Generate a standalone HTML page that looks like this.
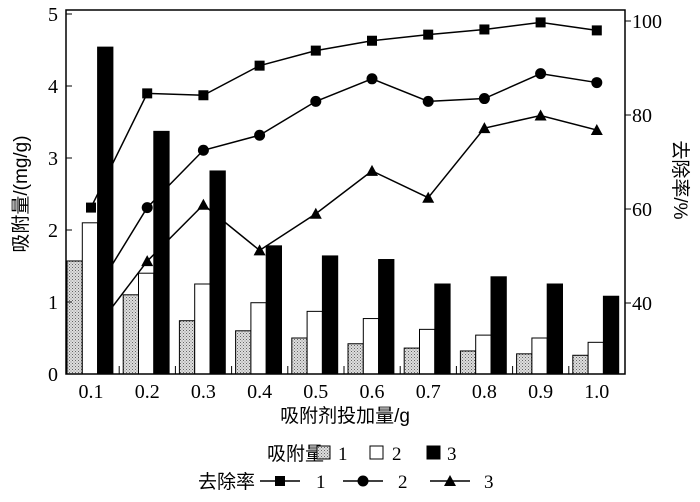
<!DOCTYPE html>
<html><head><meta charset="utf-8"><style>
body{margin:0;background:#fff}
svg text{font-family:"Liberation Serif","Noto Serif CJK SC",serif;fill:#000}
.cjk{font-family:"Liberation Sans","Noto Sans CJK SC",sans-serif}
</style></head><body>
<svg id="chart" width="700" height="497" viewBox="0 0 700 497" xmlns="http://www.w3.org/2000/svg">
<defs><pattern id="dots" width="3" height="3" patternUnits="userSpaceOnUse"><rect width="3" height="3" fill="#ddd"/><rect width="1" height="1" fill="#666"/><rect x="1.5" y="1.5" width="1" height="1" fill="#888"/></pattern></defs>
<g id="lines"></g>
<g id="bars"></g>
<g id="axes"></g>
<text class="cjk" transform="translate(27,194) rotate(-90)" text-anchor="middle" font-size="19">吸附量/(mg/g)</text>
<text class="cjk" transform="translate(674,180) rotate(90)" text-anchor="middle" font-size="19">去除率/%</text>
<text class="cjk" x="345" y="422" text-anchor="middle" font-size="19">吸附剂投加量/g</text>
<g font-size="19">
<text class="cjk" x="267" y="460">吸附量</text>
<rect x="317" y="446" width="13" height="13" fill="url(#dots)" stroke="#000"/><text x="338" y="460">1</text>
<rect x="370" y="446" width="13" height="13" fill="#fff" stroke="#000"/><text x="392" y="460">2</text>
<rect x="427" y="446" width="13" height="13" fill="#000" stroke="#000"/><text x="447" y="460">3</text>
<text class="cjk" x="198" y="488">去除率</text>
<line x1="260" y1="481" x2="300" y2="481" stroke="#000" stroke-width="1.5"/><rect x="275" y="476" width="10" height="10"/><text x="316" y="488">1</text>
<line x1="343" y1="481" x2="383" y2="481" stroke="#000" stroke-width="1.5"/><circle cx="363" cy="481" r="5.5"/><text x="398" y="488">2</text>
<line x1="430" y1="481" x2="470" y2="481" stroke="#000" stroke-width="1.5"/><polygon points="450,475 456,486 444,486"/><text x="484" y="488">3</text>
</g>
</svg>
<script>
const categories=["0.1","0.2","0.3","0.4","0.5","0.6","0.7","0.8","0.9","1.0"];
const bar1=[1.57,1.1,0.74,0.6,0.5,0.42,0.36,0.32,0.28,0.26];
const bar2=[2.1,1.4,1.25,0.99,0.87,0.77,0.62,0.54,0.5,0.44];
const bar3=[4.54,3.37,2.82,1.78,1.64,1.59,1.25,1.35,1.25,1.08];
const rate1=[60.3,84.6,84.2,90.5,93.7,95.8,97.1,98.2,99.7,98.0];
const rate2=[40.8,60.3,72.5,75.7,82.9,87.7,82.9,83.5,88.8,86.9];
const rate3=[33.2,48.9,60.9,51.2,59.0,68.1,62.4,77.2,79.9,76.8];
const leftTicks=[0,1,2,3,4,5];
const rightTicks=[40,60,80,100];
const NS="http://www.w3.org/2000/svg";
const X0=66,X1=625,Y0=374,Y1=10;
const xc=i=>91+i*56.2;
const yl=v=>Y0-v*72;
const yr=p=>303-(p-40)*4.7;
function mk(t,a,p){const e=document.createElementNS(NS,t);for(const k in a)e.setAttribute(k,a[k]);p.appendChild(e);return e;}
const L=document.getElementById('lines'),B=document.getElementById('bars'),A=document.getElementById('axes');
[rate1,rate2,rate3].forEach((s,si)=>{
  const pl=mk('polyline',{points:s.map((v,i)=>xc(i)+','+yr(v)).join(' '),fill:'none',stroke:'#000','stroke-width':1.5},L);
  
  
  s.forEach((v,i)=>{let m;const x=xc(i),y=yr(v);
    if(si==0)m=mk('rect',{x:x-5,y:y-5,width:10,height:10},L);
    else if(si==1)m=mk('circle',{cx:x,cy:y,r:5.5},L);
    else m=mk('polygon',{points:`${x},${y-6} ${x+6},${y+5} ${x-6},${y+5}`},L);
    
    
  });
});
const fills=['url(#dots)','#fff','#000'];
[bar1,bar2,bar3].forEach((s,si)=>{s.forEach((v,i)=>{
  const r=mk('rect',{x:xc(i)-24+si*15.3,y:yl(v),width:15.3,height:Y0-yl(v),fill:fills[si],stroke:'#000','stroke-width':1},B);
  
  
});});
const f=mk('rect',{x:X0,y:Y1,width:X1-X0,height:Y0-Y1,fill:'none',stroke:'#000','stroke-width':1.5},A);


leftTicks.forEach(v=>{mk('line',{x1:X0,x2:X0+6,y1:yl(v),y2:yl(v),stroke:'#000'},A);
  const t=mk('text',{x:X0-8,y:yl(v)+7,'text-anchor':'end','font-size':20},A);t.textContent=v;
  
  });
rightTicks.forEach(v=>{mk('line',{x1:X1,x2:X1+6,y1:yr(v),y2:yr(v),stroke:'#000'},A);
  const t=mk('text',{x:X1+7,y:yr(v)+7,'font-size':20},A);t.textContent=v;
  
  });
categories.forEach((c,i)=>{
  if(i>0)mk('line',{x1:xc(i)-28,x2:xc(i)-28,y1:Y0,y2:Y0-8,stroke:'#000'},A);
  const t=mk('text',{x:xc(i),y:Y0+24,'text-anchor':'middle','font-size':20},A);t.textContent=c;
  
  });
</script>
</body></html>
